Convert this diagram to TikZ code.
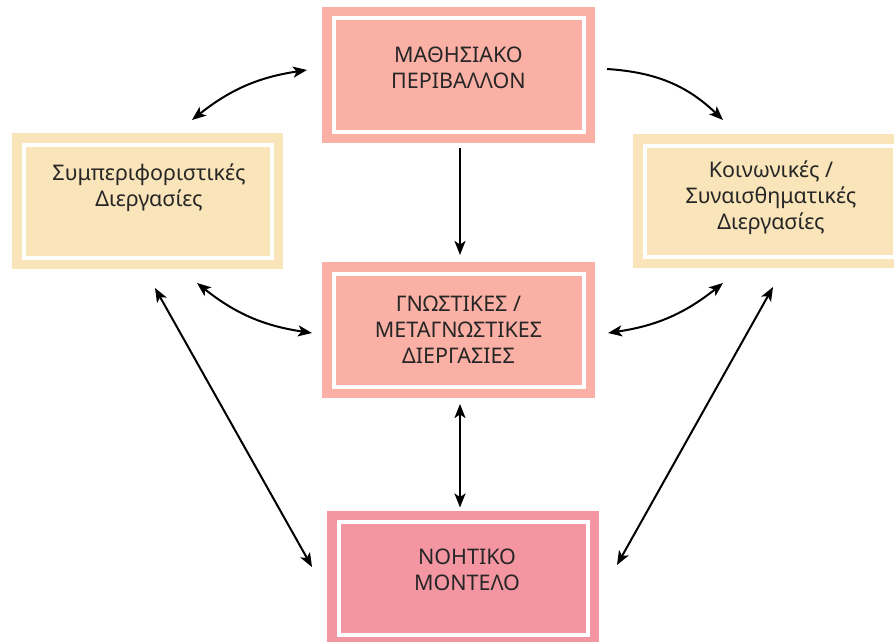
\documentclass[tikz,border=0pt]{standalone}
\usepackage{fontspec}
\setmainfont{Noto Sans}
\usetikzlibrary{calc,arrows.meta}

\definecolor{salmon}{HTML}{FAB0A4}
\definecolor{sand}{HTML}{FAE4BA}
\definecolor{rose}{HTML}{F496A2}
\definecolor{ink}{HTML}{262626}

\tikzset{
  panel/.style={draw=none, fill=#1, minimum width=273pt, minimum height=136pt,
    inner sep=0pt, outer sep=0pt,
    path picture={\draw[white, line width=4pt]
      ([shift={(11.5pt,-11.5pt)}]path picture bounding box.north west) rectangle
      ([shift={(-11.5pt,11.5pt)}]path picture bounding box.south east);}},
  caption/.style={align=center, text=ink, inner sep=0pt,
    font=\fontsize{21.5}{26}\selectfont},
  tipA/.tip={Stealth[length=14pt,width=11pt,inset=3.5pt]},
  link/.style={draw=black, line width=2pt, -tipA},
  dlink/.style={link, tipA-tipA},
}

\begin{document}
\begin{tikzpicture}[x=1pt,y=-1pt]
  \fill[white] (0,0) rectangle (894,642);
  \useasboundingbox (0,0) rectangle (894,642);

  % panels
  \node[panel=salmon] (env) at (458.5,75) {};
  \node[panel=sand, minimum width=271pt] (beh) at (147.5,201) {};
  \node[panel=sand, minimum height=134pt] (soc) at (769.5,201) {};
  \node[panel=salmon] (cog) at (458.5,330) {};
  \node[panel=rose, minimum width=272pt] (mod) at (463,578.5) {};

  % captions
  \node[caption] (env-t) at ($(env.center)+(0,-7)$) {ΜΑΘΗΣΙΑΚΟ\\ΠΕΡΙΒΑΛΛΟΝ};
  \node[caption] (beh-t) at ($(beh.center)+(1.5,-13)$) {Συμπεριφοριστικές\\Διεργασίες};
  \node[caption] (soc-t) at ($(soc.center)+(1.5,-3)$) {Κοινωνικές /\\Συναισθηματικές\\Διεργασίες};
  \node[caption] (cog-t) at (cog.center) {ΓΝΩΣΤΙΚΕΣ /\\ΜΕΤΑΓΝΩΣΤΙΚΕΣ\\ΔΙΕΡΓΑΣΙΕΣ};
  \node[caption] (mod-t) at ($(mod.center)+(4,-8.5)$) {ΝΟΗΤΙΚΟ\\ΜΟΝΤΕΛΟ};

  % connectors
  \draw[dlink] ($(beh.north)+(44.5,-13)$) to[bend left=15] ($(env.west)+(-15,-5)$);
  \draw[link] ($(env.east)+(12,-6)$) to[bend left=20] ($(soc.north)+(-46.5,-14)$);
  \draw[link] ($(env.south)+(1.5,5)$) -- ($(cog.north)+(1.5,-7)$);
  \draw[dlink] ($(beh.south)+(49.5,14)$) to[bend right=15] ($(cog.west)+(-10,3)$);
  \draw[dlink] ($(cog.east)+(13,3)$) to[bend right=15] ($(soc.south)+(-46.5,15)$);
  \draw[dlink] ($(cog.south)+(1.5,6)$) -- ($(mod.north)+(-3,-3)$);
  \draw[dlink] ($(beh.south)+(7.5,19)$) -- ($(mod.west)+(-15,-11.5)$);
  \draw[dlink] ($(soc.south)+(3.5,19)$) -- ($(mod.east)+(18,-13.5)$);
\end{tikzpicture}
\end{document}
